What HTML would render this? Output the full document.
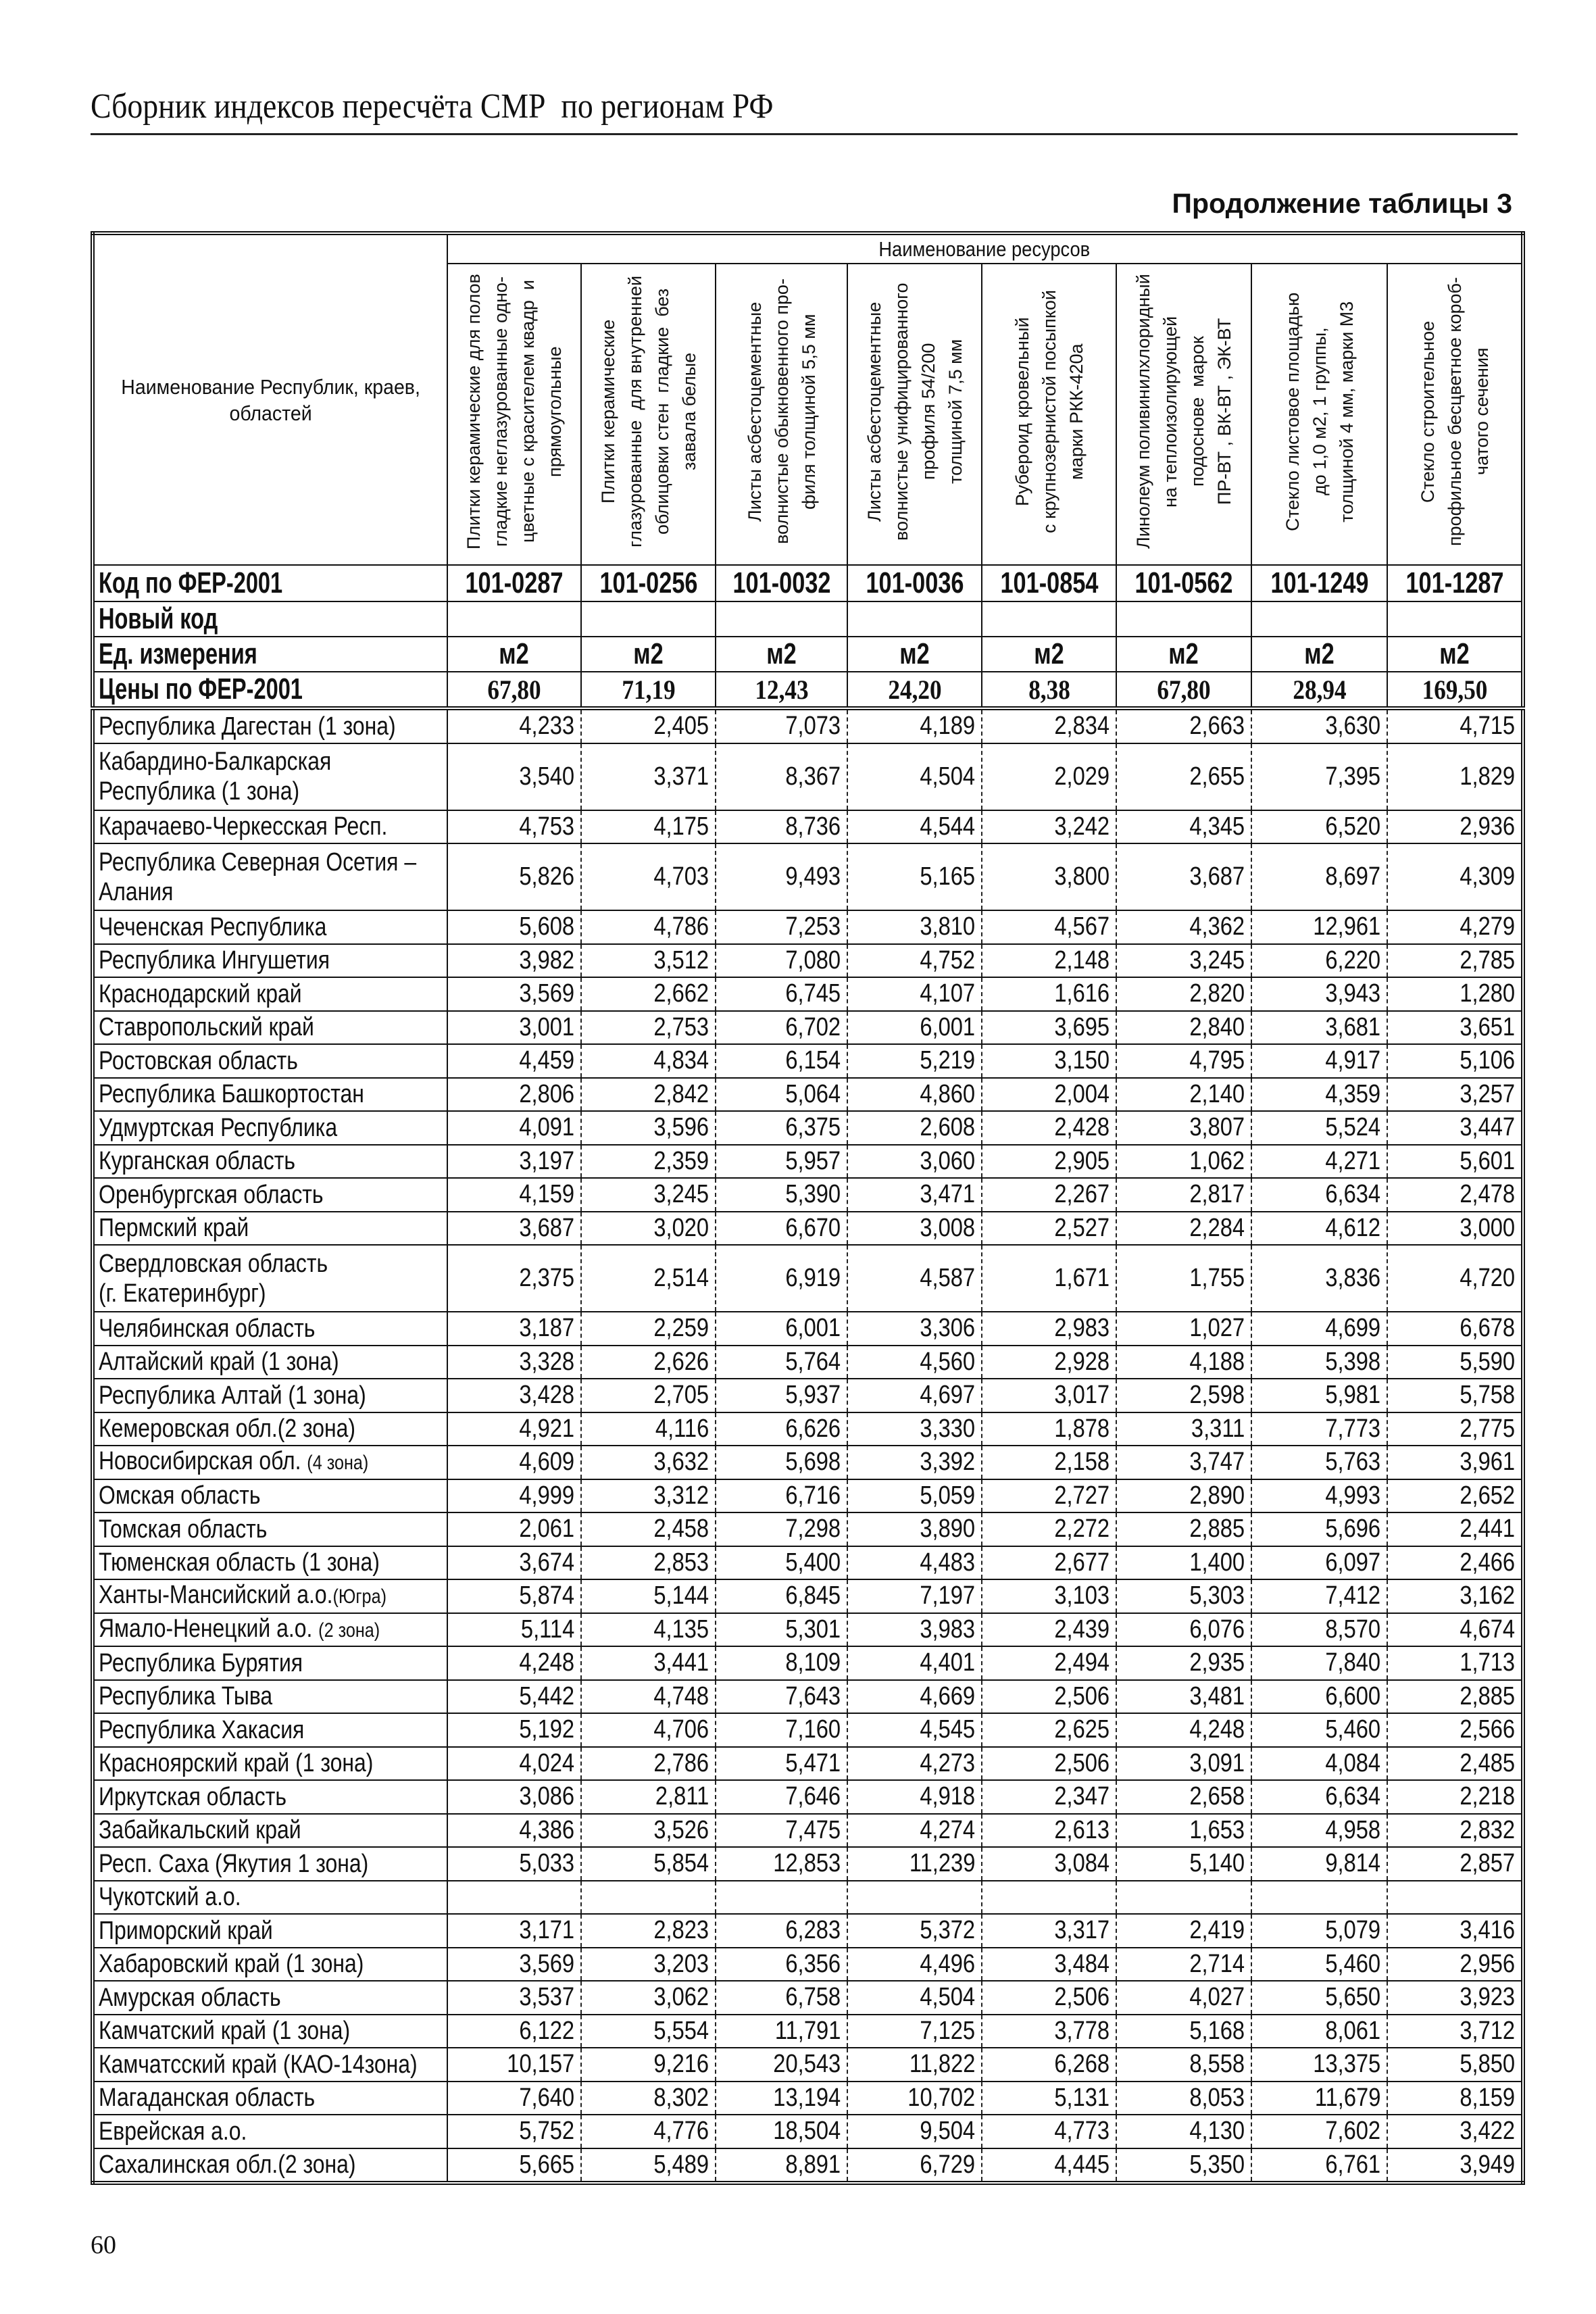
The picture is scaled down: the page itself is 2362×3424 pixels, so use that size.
<!DOCTYPE html>
<html><head><meta charset="utf-8">
<style>
html,body{margin:0;padding:0;background:#fff;}
body{width:2362px;height:3424px;position:relative;overflow:hidden;color:#111;}
.ttl{position:absolute;left:134px;top:128px;font-family:"Liberation Serif",serif;font-size:52px;white-space:nowrap;transform:scaleX(.88);transform-origin:left top;}
.rule{position:absolute;left:134px;top:197px;width:2112px;height:3px;background:#222;}
.cont{position:absolute;right:124px;top:278px;font-family:"Liberation Sans",sans-serif;font-weight:bold;font-size:41px;white-space:nowrap;}
.pg{position:absolute;left:134px;top:3300px;font-family:"Liberation Serif",serif;font-size:38px;}
table{position:absolute;left:134px;top:342px;width:2117px;border-collapse:collapse;table-layout:fixed;border:6px double #111;font-family:"Liberation Sans",sans-serif;}
td{border:2px solid #111;padding:0;overflow:hidden;white-space:nowrap;}
.hd{text-align:center;vertical-align:middle;font-size:31px;}
.rot{display:inline-block;writing-mode:vertical-rl;transform:rotate(180deg);text-align:center;font-size:27px;line-height:40px;height:436px;white-space:nowrap;}
.b{font-weight:bold;font-size:44px;}
.b span{display:inline-block;transform:scaleX(.74);transform-origin:left center;}
.bc{font-weight:bold;font-size:44px;text-align:center;}
.bc span{display:inline-block;transform:scaleX(.78);}
.pr{font-family:"Liberation Serif",serif;font-weight:bold;font-size:40px;text-align:center;}
.pr span{display:inline-block;transform:scaleX(.88);}
tr.d td{height:47.5px;font-size:38px;}
tr.dd td{height:97px;font-size:38px;}
td.n{padding-left:6px;line-height:44px;}
td.n span{display:inline-block;transform:scaleX(.84);transform-origin:left center;}
td.v{text-align:right;padding-right:9px;border-left:2px dashed #222;border-right:2px dashed #222;}
td.v span{display:inline-block;transform:scaleX(.86);transform-origin:right center;}
small{font-size:30px;}
</style></head><body>
<div class="ttl">Сборник индексов пересчёта СМР&nbsp; по регионам РФ</div>
<div class="rule"></div>
<div class="cont">Продолжение таблицы 3</div>
<table>
<colgroup><col style="width:525px"><col style="width:198px"><col style="width:199px"><col style="width:195px"><col style="width:199px"><col style="width:199px"><col style="width:200px"><col style="width:201px"><col style="width:201px"></colgroup>
<tr style="height:45px"><td class="hd" rowspan="2" style="line-height:39px"><span style="display:inline-block;transform:scaleX(.92)">Наименование Республик, краев,<br>областей</span></td><td class="hd" colspan="8" style="font-size:31px"><span style="display:inline-block;transform:scaleX(.88)">Наименование ресурсов</span></td></tr>
<tr style="height:441px">
<td class="hd"><div class="rot">Плитки керамические для полов<br>гладкие неглазурованные одно-<br>цветные с красителем квадр&nbsp; и<br>прямоугольные</div></td>
<td class="hd"><div class="rot">Плитки керамические<br>глазурованные&nbsp; для внутренней<br>облицовки стен&nbsp; гладкие&nbsp; без<br>завала белые</div></td>
<td class="hd"><div class="rot">Листы асбестоцементные<br>волнистые обыкновенного про-<br>филя толщиной 5,5 мм</div></td>
<td class="hd"><div class="rot">Листы асбестоцементные<br>волнистые унифицированного<br>профиля 54/200<br>толщиной 7,5 мм</div></td>
<td class="hd"><div class="rot">Рубероид кровельный<br>с крупнозернистой посыпкой<br>марки РКК-420а</div></td>
<td class="hd"><div class="rot">Линолеум поливинилхлоридный<br>на теплоизолирующей<br>подоснове&nbsp; марок<br>ПР-ВТ , ВК-ВТ , ЭК-ВТ</div></td>
<td class="hd"><div class="rot">Стекло листовое площадью<br>до 1,0 м2, 1 группы,<br>толщиной 4 мм, марки М3</div></td>
<td class="hd"><div class="rot">Стекло строительное<br>профильное бесцветное короб-<br>чатого сечения</div></td>
</tr>
<tr style="height:54px"><td class="b" style="padding-left:6px"><span>Код по ФЕР-2001</span></td><td class="bc"><span>101-0287</span></td><td class="bc"><span>101-0256</span></td><td class="bc"><span>101-0032</span></td><td class="bc"><span>101-0036</span></td><td class="bc"><span>101-0854</span></td><td class="bc"><span>101-0562</span></td><td class="bc"><span>101-1249</span></td><td class="bc"><span>101-1287</span></td></tr>
<tr style="height:51px"><td class="b" style="padding-left:6px"><span>Новый код</span></td><td></td><td></td><td></td><td></td><td></td><td></td><td></td><td></td></tr>
<tr style="height:51px"><td class="b" style="padding-left:6px"><span>Ед. измерения</span></td><td class="bc"><span>м2</span></td><td class="bc"><span>м2</span></td><td class="bc"><span>м2</span></td><td class="bc"><span>м2</span></td><td class="bc"><span>м2</span></td><td class="bc"><span>м2</span></td><td class="bc"><span>м2</span></td><td class="bc"><span>м2</span></td></tr>
<tr style="height:50px;border-bottom:6px double #111"><td class="b" style="padding-left:6px"><span>Цены по ФЕР-2001</span></td><td class="pr"><span>67,80</span></td><td class="pr"><span>71,19</span></td><td class="pr"><span>12,43</span></td><td class="pr"><span>24,20</span></td><td class="pr"><span>8,38</span></td><td class="pr"><span>67,80</span></td><td class="pr"><span>28,94</span></td><td class="pr"><span>169,50</span></td></tr>
<tr class="d"><td class="n"><span>Республика Дагестан (1 зона)</span></td><td class="v"><span>4,233</span></td><td class="v"><span>2,405</span></td><td class="v"><span>7,073</span></td><td class="v"><span>4,189</span></td><td class="v"><span>2,834</span></td><td class="v"><span>2,663</span></td><td class="v"><span>3,630</span></td><td class="v"><span>4,715</span></td></tr>
<tr class="dd"><td class="n"><span>Кабардино-Балкарская<br>Республика (1 зона)</span></td><td class="v"><span>3,540</span></td><td class="v"><span>3,371</span></td><td class="v"><span>8,367</span></td><td class="v"><span>4,504</span></td><td class="v"><span>2,029</span></td><td class="v"><span>2,655</span></td><td class="v"><span>7,395</span></td><td class="v"><span>1,829</span></td></tr>
<tr class="d"><td class="n"><span>Карачаево-Черкесская Респ.</span></td><td class="v"><span>4,753</span></td><td class="v"><span>4,175</span></td><td class="v"><span>8,736</span></td><td class="v"><span>4,544</span></td><td class="v"><span>3,242</span></td><td class="v"><span>4,345</span></td><td class="v"><span>6,520</span></td><td class="v"><span>2,936</span></td></tr>
<tr class="dd"><td class="n"><span>Республика Северная Осетия –<br>Алания</span></td><td class="v"><span>5,826</span></td><td class="v"><span>4,703</span></td><td class="v"><span>9,493</span></td><td class="v"><span>5,165</span></td><td class="v"><span>3,800</span></td><td class="v"><span>3,687</span></td><td class="v"><span>8,697</span></td><td class="v"><span>4,309</span></td></tr>
<tr class="d"><td class="n"><span>Чеченская Республика</span></td><td class="v"><span>5,608</span></td><td class="v"><span>4,786</span></td><td class="v"><span>7,253</span></td><td class="v"><span>3,810</span></td><td class="v"><span>4,567</span></td><td class="v"><span>4,362</span></td><td class="v"><span>12,961</span></td><td class="v"><span>4,279</span></td></tr>
<tr class="d"><td class="n"><span>Республика Ингушетия</span></td><td class="v"><span>3,982</span></td><td class="v"><span>3,512</span></td><td class="v"><span>7,080</span></td><td class="v"><span>4,752</span></td><td class="v"><span>2,148</span></td><td class="v"><span>3,245</span></td><td class="v"><span>6,220</span></td><td class="v"><span>2,785</span></td></tr>
<tr class="d"><td class="n"><span>Краснодарский край</span></td><td class="v"><span>3,569</span></td><td class="v"><span>2,662</span></td><td class="v"><span>6,745</span></td><td class="v"><span>4,107</span></td><td class="v"><span>1,616</span></td><td class="v"><span>2,820</span></td><td class="v"><span>3,943</span></td><td class="v"><span>1,280</span></td></tr>
<tr class="d"><td class="n"><span>Ставропольский край</span></td><td class="v"><span>3,001</span></td><td class="v"><span>2,753</span></td><td class="v"><span>6,702</span></td><td class="v"><span>6,001</span></td><td class="v"><span>3,695</span></td><td class="v"><span>2,840</span></td><td class="v"><span>3,681</span></td><td class="v"><span>3,651</span></td></tr>
<tr class="d"><td class="n"><span>Ростовская область</span></td><td class="v"><span>4,459</span></td><td class="v"><span>4,834</span></td><td class="v"><span>6,154</span></td><td class="v"><span>5,219</span></td><td class="v"><span>3,150</span></td><td class="v"><span>4,795</span></td><td class="v"><span>4,917</span></td><td class="v"><span>5,106</span></td></tr>
<tr class="d"><td class="n"><span>Республика Башкортостан</span></td><td class="v"><span>2,806</span></td><td class="v"><span>2,842</span></td><td class="v"><span>5,064</span></td><td class="v"><span>4,860</span></td><td class="v"><span>2,004</span></td><td class="v"><span>2,140</span></td><td class="v"><span>4,359</span></td><td class="v"><span>3,257</span></td></tr>
<tr class="d"><td class="n"><span>Удмуртская Республика</span></td><td class="v"><span>4,091</span></td><td class="v"><span>3,596</span></td><td class="v"><span>6,375</span></td><td class="v"><span>2,608</span></td><td class="v"><span>2,428</span></td><td class="v"><span>3,807</span></td><td class="v"><span>5,524</span></td><td class="v"><span>3,447</span></td></tr>
<tr class="d"><td class="n"><span>Курганская область</span></td><td class="v"><span>3,197</span></td><td class="v"><span>2,359</span></td><td class="v"><span>5,957</span></td><td class="v"><span>3,060</span></td><td class="v"><span>2,905</span></td><td class="v"><span>1,062</span></td><td class="v"><span>4,271</span></td><td class="v"><span>5,601</span></td></tr>
<tr class="d"><td class="n"><span>Оренбургская область</span></td><td class="v"><span>4,159</span></td><td class="v"><span>3,245</span></td><td class="v"><span>5,390</span></td><td class="v"><span>3,471</span></td><td class="v"><span>2,267</span></td><td class="v"><span>2,817</span></td><td class="v"><span>6,634</span></td><td class="v"><span>2,478</span></td></tr>
<tr class="d"><td class="n"><span>Пермский край</span></td><td class="v"><span>3,687</span></td><td class="v"><span>3,020</span></td><td class="v"><span>6,670</span></td><td class="v"><span>3,008</span></td><td class="v"><span>2,527</span></td><td class="v"><span>2,284</span></td><td class="v"><span>4,612</span></td><td class="v"><span>3,000</span></td></tr>
<tr class="dd"><td class="n"><span>Свердловская область<br>(г. Екатеринбург)</span></td><td class="v"><span>2,375</span></td><td class="v"><span>2,514</span></td><td class="v"><span>6,919</span></td><td class="v"><span>4,587</span></td><td class="v"><span>1,671</span></td><td class="v"><span>1,755</span></td><td class="v"><span>3,836</span></td><td class="v"><span>4,720</span></td></tr>
<tr class="d"><td class="n"><span>Челябинская область</span></td><td class="v"><span>3,187</span></td><td class="v"><span>2,259</span></td><td class="v"><span>6,001</span></td><td class="v"><span>3,306</span></td><td class="v"><span>2,983</span></td><td class="v"><span>1,027</span></td><td class="v"><span>4,699</span></td><td class="v"><span>6,678</span></td></tr>
<tr class="d"><td class="n"><span>Алтайский край (1 зона)</span></td><td class="v"><span>3,328</span></td><td class="v"><span>2,626</span></td><td class="v"><span>5,764</span></td><td class="v"><span>4,560</span></td><td class="v"><span>2,928</span></td><td class="v"><span>4,188</span></td><td class="v"><span>5,398</span></td><td class="v"><span>5,590</span></td></tr>
<tr class="d"><td class="n"><span>Республика Алтай (1 зона)</span></td><td class="v"><span>3,428</span></td><td class="v"><span>2,705</span></td><td class="v"><span>5,937</span></td><td class="v"><span>4,697</span></td><td class="v"><span>3,017</span></td><td class="v"><span>2,598</span></td><td class="v"><span>5,981</span></td><td class="v"><span>5,758</span></td></tr>
<tr class="d"><td class="n"><span>Кемеровская обл.(2 зона)</span></td><td class="v"><span>4,921</span></td><td class="v"><span>4,116</span></td><td class="v"><span>6,626</span></td><td class="v"><span>3,330</span></td><td class="v"><span>1,878</span></td><td class="v"><span>3,311</span></td><td class="v"><span>7,773</span></td><td class="v"><span>2,775</span></td></tr>
<tr class="d"><td class="n"><span>Новосибирская обл. <small>(4 зона)</small></span></td><td class="v"><span>4,609</span></td><td class="v"><span>3,632</span></td><td class="v"><span>5,698</span></td><td class="v"><span>3,392</span></td><td class="v"><span>2,158</span></td><td class="v"><span>3,747</span></td><td class="v"><span>5,763</span></td><td class="v"><span>3,961</span></td></tr>
<tr class="d"><td class="n"><span>Омская область</span></td><td class="v"><span>4,999</span></td><td class="v"><span>3,312</span></td><td class="v"><span>6,716</span></td><td class="v"><span>5,059</span></td><td class="v"><span>2,727</span></td><td class="v"><span>2,890</span></td><td class="v"><span>4,993</span></td><td class="v"><span>2,652</span></td></tr>
<tr class="d"><td class="n"><span>Томская область</span></td><td class="v"><span>2,061</span></td><td class="v"><span>2,458</span></td><td class="v"><span>7,298</span></td><td class="v"><span>3,890</span></td><td class="v"><span>2,272</span></td><td class="v"><span>2,885</span></td><td class="v"><span>5,696</span></td><td class="v"><span>2,441</span></td></tr>
<tr class="d"><td class="n"><span>Тюменская область (1 зона)</span></td><td class="v"><span>3,674</span></td><td class="v"><span>2,853</span></td><td class="v"><span>5,400</span></td><td class="v"><span>4,483</span></td><td class="v"><span>2,677</span></td><td class="v"><span>1,400</span></td><td class="v"><span>6,097</span></td><td class="v"><span>2,466</span></td></tr>
<tr class="d"><td class="n"><span>Ханты-Мансийский а.о.<small>(Югра)</small></span></td><td class="v"><span>5,874</span></td><td class="v"><span>5,144</span></td><td class="v"><span>6,845</span></td><td class="v"><span>7,197</span></td><td class="v"><span>3,103</span></td><td class="v"><span>5,303</span></td><td class="v"><span>7,412</span></td><td class="v"><span>3,162</span></td></tr>
<tr class="d"><td class="n"><span>Ямало-Ненецкий а.о. <small>(2 зона)</small></span></td><td class="v"><span>5,114</span></td><td class="v"><span>4,135</span></td><td class="v"><span>5,301</span></td><td class="v"><span>3,983</span></td><td class="v"><span>2,439</span></td><td class="v"><span>6,076</span></td><td class="v"><span>8,570</span></td><td class="v"><span>4,674</span></td></tr>
<tr class="d"><td class="n"><span>Республика Бурятия</span></td><td class="v"><span>4,248</span></td><td class="v"><span>3,441</span></td><td class="v"><span>8,109</span></td><td class="v"><span>4,401</span></td><td class="v"><span>2,494</span></td><td class="v"><span>2,935</span></td><td class="v"><span>7,840</span></td><td class="v"><span>1,713</span></td></tr>
<tr class="d"><td class="n"><span>Республика Тыва</span></td><td class="v"><span>5,442</span></td><td class="v"><span>4,748</span></td><td class="v"><span>7,643</span></td><td class="v"><span>4,669</span></td><td class="v"><span>2,506</span></td><td class="v"><span>3,481</span></td><td class="v"><span>6,600</span></td><td class="v"><span>2,885</span></td></tr>
<tr class="d"><td class="n"><span>Республика Хакасия</span></td><td class="v"><span>5,192</span></td><td class="v"><span>4,706</span></td><td class="v"><span>7,160</span></td><td class="v"><span>4,545</span></td><td class="v"><span>2,625</span></td><td class="v"><span>4,248</span></td><td class="v"><span>5,460</span></td><td class="v"><span>2,566</span></td></tr>
<tr class="d"><td class="n"><span>Красноярский край (1 зона)</span></td><td class="v"><span>4,024</span></td><td class="v"><span>2,786</span></td><td class="v"><span>5,471</span></td><td class="v"><span>4,273</span></td><td class="v"><span>2,506</span></td><td class="v"><span>3,091</span></td><td class="v"><span>4,084</span></td><td class="v"><span>2,485</span></td></tr>
<tr class="d"><td class="n"><span>Иркутская область</span></td><td class="v"><span>3,086</span></td><td class="v"><span>2,811</span></td><td class="v"><span>7,646</span></td><td class="v"><span>4,918</span></td><td class="v"><span>2,347</span></td><td class="v"><span>2,658</span></td><td class="v"><span>6,634</span></td><td class="v"><span>2,218</span></td></tr>
<tr class="d"><td class="n"><span>Забайкальский край</span></td><td class="v"><span>4,386</span></td><td class="v"><span>3,526</span></td><td class="v"><span>7,475</span></td><td class="v"><span>4,274</span></td><td class="v"><span>2,613</span></td><td class="v"><span>1,653</span></td><td class="v"><span>4,958</span></td><td class="v"><span>2,832</span></td></tr>
<tr class="d"><td class="n"><span>Респ. Саха (Якутия 1 зона)</span></td><td class="v"><span>5,033</span></td><td class="v"><span>5,854</span></td><td class="v"><span>12,853</span></td><td class="v"><span>11,239</span></td><td class="v"><span>3,084</span></td><td class="v"><span>5,140</span></td><td class="v"><span>9,814</span></td><td class="v"><span>2,857</span></td></tr>
<tr class="d"><td class="n"><span>Чукотский а.о.</span></td><td class="v"></td><td class="v"></td><td class="v"></td><td class="v"></td><td class="v"></td><td class="v"></td><td class="v"></td><td class="v"></td></tr>
<tr class="d"><td class="n"><span>Приморский край</span></td><td class="v"><span>3,171</span></td><td class="v"><span>2,823</span></td><td class="v"><span>6,283</span></td><td class="v"><span>5,372</span></td><td class="v"><span>3,317</span></td><td class="v"><span>2,419</span></td><td class="v"><span>5,079</span></td><td class="v"><span>3,416</span></td></tr>
<tr class="d"><td class="n"><span>Хабаровский край (1 зона)</span></td><td class="v"><span>3,569</span></td><td class="v"><span>3,203</span></td><td class="v"><span>6,356</span></td><td class="v"><span>4,496</span></td><td class="v"><span>3,484</span></td><td class="v"><span>2,714</span></td><td class="v"><span>5,460</span></td><td class="v"><span>2,956</span></td></tr>
<tr class="d"><td class="n"><span>Амурская область</span></td><td class="v"><span>3,537</span></td><td class="v"><span>3,062</span></td><td class="v"><span>6,758</span></td><td class="v"><span>4,504</span></td><td class="v"><span>2,506</span></td><td class="v"><span>4,027</span></td><td class="v"><span>5,650</span></td><td class="v"><span>3,923</span></td></tr>
<tr class="d"><td class="n"><span>Камчатский край (1 зона)</span></td><td class="v"><span>6,122</span></td><td class="v"><span>5,554</span></td><td class="v"><span>11,791</span></td><td class="v"><span>7,125</span></td><td class="v"><span>3,778</span></td><td class="v"><span>5,168</span></td><td class="v"><span>8,061</span></td><td class="v"><span>3,712</span></td></tr>
<tr class="d"><td class="n"><span>Камчатсский край (КАО-14зона)</span></td><td class="v"><span>10,157</span></td><td class="v"><span>9,216</span></td><td class="v"><span>20,543</span></td><td class="v"><span>11,822</span></td><td class="v"><span>6,268</span></td><td class="v"><span>8,558</span></td><td class="v"><span>13,375</span></td><td class="v"><span>5,850</span></td></tr>
<tr class="d"><td class="n"><span>Магаданская область</span></td><td class="v"><span>7,640</span></td><td class="v"><span>8,302</span></td><td class="v"><span>13,194</span></td><td class="v"><span>10,702</span></td><td class="v"><span>5,131</span></td><td class="v"><span>8,053</span></td><td class="v"><span>11,679</span></td><td class="v"><span>8,159</span></td></tr>
<tr class="d"><td class="n"><span>Еврейская а.о.</span></td><td class="v"><span>5,752</span></td><td class="v"><span>4,776</span></td><td class="v"><span>18,504</span></td><td class="v"><span>9,504</span></td><td class="v"><span>4,773</span></td><td class="v"><span>4,130</span></td><td class="v"><span>7,602</span></td><td class="v"><span>3,422</span></td></tr>
<tr class="d"><td class="n"><span>Сахалинская обл.(2 зона)</span></td><td class="v"><span>5,665</span></td><td class="v"><span>5,489</span></td><td class="v"><span>8,891</span></td><td class="v"><span>6,729</span></td><td class="v"><span>4,445</span></td><td class="v"><span>5,350</span></td><td class="v"><span>6,761</span></td><td class="v"><span>3,949</span></td></tr>
</table>
<div class="pg">60</div>
</body></html>
